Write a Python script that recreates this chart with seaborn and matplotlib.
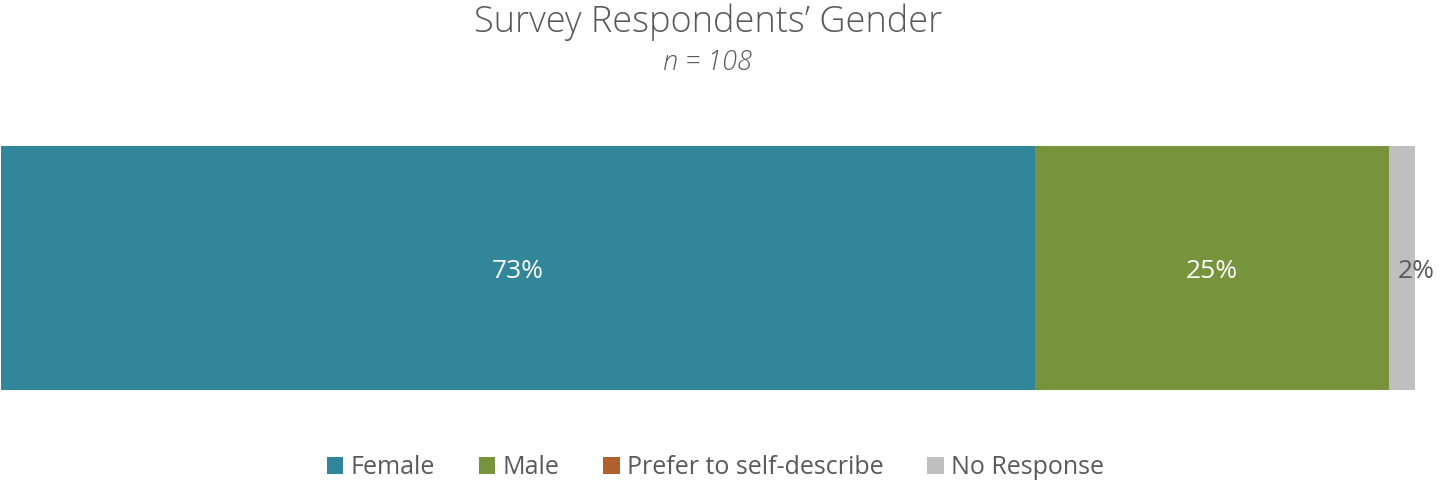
import matplotlib
matplotlib.use("Agg")
import matplotlib.pyplot as plt
from matplotlib.patches import Patch
import numpy as np
import pandas as pd
import seaborn as sns

# Respondent counts per gender category
categories = ["Female", "Male", "Prefer to self-describe", "No Response"]
counts = [79, 27, 0, 2]
colors = ["#31869A", "#77933C", "#B0602C", "#BFBFBF"]
label_colors = ["white", "white", "white", "#595959"]

n_total = sum(counts)
shares = np.array(counts) / n_total
cum = np.cumsum(shares)

sns.set_theme(style="white")
plt.rcParams["font.family"] = ["Open Sans", "DejaVu Sans"]

fig = plt.figure(figsize=(14.4, 4.82), dpi=100)
W, H = 1440, 482
ax = fig.add_axes([1 / W, 1 - 390 / H, 1414 / W, 244 / H])

# Stacked bar: draw cumulative totals from the widest down so each segment shows
for i in reversed(range(len(categories))):
    df = pd.DataFrame({"share": [cum[i]], "group": ["All"]})
    sns.barplot(data=df, x="share", y="group", orient="h", color=colors[i],
                width=1.0, saturation=1, ax=ax, linewidth=0)

ax.set_xlim(0, 1)
ax.set_ylim(0.5, -0.5)
ax.axis("off")

# Segment value labels
starts = np.concatenate([[0], cum[:-1]])
for i, s in enumerate(shares):
    if s <= 0:
        continue
    if s < 0.05:
        x = cum[i] + 0.001
    else:
        x = starts[i] + s / 2
    ax.text(x, 0, f"{round(s * 100):.0f}%", ha="center", va="center_baseline",
            fontsize=19, color=label_colors[i], clip_on=False)

cx = 708 / W
fig.text(cx, 1 - 22 / H, "Survey Respondents\u2019 Gender", ha="center", va="center",
         fontsize=26, color="#595959", fontweight="light")
fig.text(cx, 1 - 63 / H, f"n = {n_total}", ha="center", va="center",
         fontsize=19.5, color="#595959", style="italic", fontweight="light")

handles = [Patch(facecolor=c, edgecolor="none") for c in colors]
fig.legend(handles, categories, loc="center", bbox_to_anchor=(0.497, 14 / H),
           ncol=4, frameon=False, fontsize=18, handlelength=0.65, handleheight=0.65,
           handletextpad=0.3, columnspacing=1.75, labelcolor="#595959")

fig.savefig("out.png", dpi=100)
